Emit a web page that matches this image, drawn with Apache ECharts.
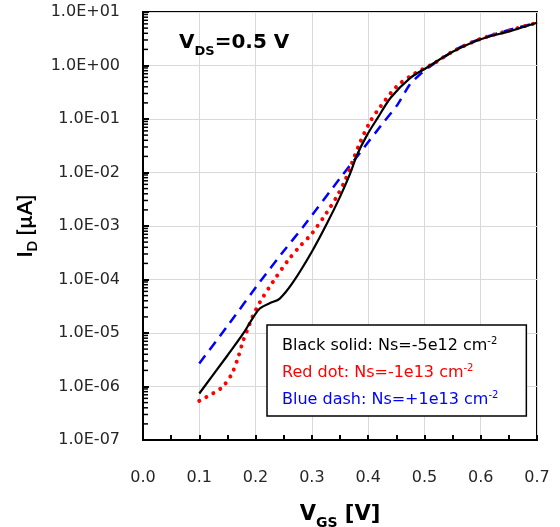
<!DOCTYPE html>
<html>
<head>
<meta charset="utf-8">
<script src="https://cdn.jsdelivr.net/npm/echarts@6/dist/echarts.min.js"></script>
<style>
html,body{margin:0;padding:0;background:#fff;}
#chart{width:560px;height:527px;}
</style>
</head>
<body>
<div id="chart"></div>
<script>
// ---- data ----
const xTickLabels = ['0.0','0.1','0.2','0.3','0.4','0.5','0.6','0.7'];
const yTickLabels = ['1.0E-07','1.0E-06','1.0E-05','1.0E-04','1.0E-03','1.0E-02','1.0E-01','1.0E+00','1.0E+01'];
const yDecades = [1e-7, 1e-6, 1e-5, 1e-4, 1e-3, 1e-2, 1e-1, 1];
const yMinorMultipliers = [2, 3, 4, 5, 6, 7, 8, 9];

const blackV = [0.10,0.15,0.18,0.195,0.208,0.225,0.243,0.266,0.30,0.327,0.35,0.368,0.38,0.398,0.417,0.44,0.474,0.504,0.551,0.60,0.652,0.70];
const blackI = [7.4e-7,3.8e-6,1.05e-5,1.9e-5,2.9e-5,3.6e-5,4.4e-5,8.7e-5,3.3e-4,1.12e-3,3.5e-3,9.5e-3,2.1e-2,5.0e-2,0.105,0.25,0.575,0.91,1.82,3.1,4.4,6.3];

const redV = [0.10,0.124,0.142,0.158,0.169,0.178,0.187,0.194,0.208,0.231,0.258,0.279,0.30,0.327,0.344,0.359,0.371,0.385,0.403,0.421,0.451,0.48,0.52,0.55,0.60,0.65,0.70];
const redI = [5.4e-7,7.4e-7,1.0e-6,1.74e-6,3.5e-6,7.2e-6,1.26e-5,1.95e-5,3.8e-5,9.1e-5,2.3e-4,4.2e-4,7.2e-4,1.82e-3,3.5e-3,7.1e-3,1.48e-2,3.5e-2,8.7e-2,0.166,0.41,0.68,1.15,1.82,3.16,4.5,6.3];

const blueV = [0.10,0.15,0.208,0.25,0.284,0.35,0.385,0.426,0.451,0.474,0.492,0.515,0.563,0.60,0.65,0.70];
const blueI = [2.7e-6,1.35e-5,9.1e-5,3.4e-4,9.5e-4,7.8e-3,2.3e-2,8.3e-2,0.178,0.44,0.68,1.05,2.19,3.16,4.6,6.3];

const seriesNames = ['Black solid', 'Red dot', 'Blue dash'];
const legendTexts = ['Black solid: Ns=-5e12 cm', 'Red dot: Ns=-1e13 cm', 'Blue dash: Ns=+1e13 cm'];
const legendSup = '-2';

const zip = (a, b) => a.map((v, i) => [v, b[i]]);
const minorTickData = [];
yDecades.forEach(d => yMinorMultipliers.forEach(m => minorTickData.push([0, d * m])));

const WIDE = 'DejaVu Sans';
const chart = echarts.init(document.getElementById('chart'), null, {renderer: 'canvas'});

const boldRich = (family, size, subSize) => ({
  b: {fontFamily: family, fontWeight: 'bold', fontSize: size, color: '#000', lineHeight: 30, verticalAlign: 'middle'},
  s: {fontFamily: family, fontWeight: 'bold', fontSize: subSize, color: '#000', lineHeight: 14, verticalAlign: 'bottom'}
});

chart.setOption({
  backgroundColor: '#fff',
  animation: false,
  title: {
    text: '{b|V}{s|DS}{b|=0.5 V}',
    left: 179, top: 28,
    padding: 0,
    textStyle: {rich: boldRich(WIDE, 20, 13)}
  },
  legend: {
    orient: 'vertical',
    left: 267, top: 325,
    padding: [11, 28, 7, 10],
    itemGap: 8,
    itemWidth: 0, itemHeight: 19,
    icon: 'none',
    borderColor: '#000', borderWidth: 1.5,
    backgroundColor: '#fff',
    selectedMode: false,
    data: [
      {name: seriesNames[0], textStyle: {color: '#000'}},
      {name: seriesNames[1], textStyle: {color: '#ff0000'}},
      {name: seriesNames[2], textStyle: {color: '#0000ff'}}
    ],
    formatter: name => {
      const i = seriesNames.indexOf(name);
      return '{t|' + legendTexts[i] + '}{s|' + legendSup + '}';
    },
    textStyle: {
      fontFamily: WIDE, fontSize: 16, lineHeight: 19,
      rich: {
        t: {fontFamily: WIDE, fontSize: 16},
        s: {fontFamily: WIDE, fontSize: 10, padding: [0,0,8,0]}
      }
    }
  },
  grid: {
    left: 143, top: 12, width: 394, height: 428,
    containLabel: false,
    outerBoundsMode: 'none',
    show: true, borderColor: '#000', borderWidth: 2, backgroundColor: 'transparent'
  },
  xAxis: {
    type: 'value', min: 0, max: 0.7, interval: 0.1,
    name: '{b|V}{s|GS}{b| [V]}',
    nameLocation: 'middle', nameGap: 60,
    nameTextStyle: {rich: boldRich(WIDE, 21, 14)},
    axisLine: {show: true, lineStyle: {color: '#000', width: 2}},
    axisTick: {show: true, inside: true, length: 5, lineStyle: {color: '#000', width: 2}},
    minorTick: {show: true, splitNumber: 2, length: 5, lineStyle: {color: '#000', width: 2}},
    splitLine: {show: true, lineStyle: {color: '#d9d9d9', width: 1}},
    axisLabel: {
      margin: 30, fontFamily: WIDE, fontSize: 16, color: '#262626',
      formatter: v => xTickLabels[Math.round(v * 10)]
    }
  },
  yAxis: {
    type: 'log', logBase: 10, min: 1e-7, max: 10,
    name: '{b|I}{s|D}{b| [µA]}',
    nameLocation: 'middle', nameGap: 98, nameRotate: 90,
    nameTextStyle: {rich: boldRich('Lato', 21, 14)},
    axisLine: {show: true, lineStyle: {color: '#000', width: 2}},
    axisTick: {show: true, inside: true, length: 6, lineStyle: {color: '#000', width: 2}},
    splitLine: {show: true, lineStyle: {color: '#d9d9d9', width: 1}},
    axisLabel: {
      margin: 23, fontFamily: WIDE, fontSize: 16, color: '#262626',
      formatter: v => yTickLabels[Math.round(Math.log10(v)) + 7]
    }
  },
  series: [
    {
      name: 'yMinorTicks', type: 'custom', data: minorTickData, silent: true, z: 5,
      renderItem: (params, api) => {
        const p = api.coord([api.value(0), api.value(1)]);
        return {
          type: 'line',
          shape: {x1: p[0], y1: p[1], x2: p[0] + 5, y2: p[1]},
          style: {stroke: '#000', lineWidth: 1.5}
        };
      }
    },
    {
      name: seriesNames[0], type: 'line', data: zip(blackV, blackI),
      showSymbol: false, smooth: 0.3, z: 4,
      lineStyle: {color: '#000', width: 2.2},
      itemStyle: {color: '#000'}
    },
    {
      name: seriesNames[1], type: 'line', data: zip(redV, redI),
      showSymbol: false, smooth: 0.3, z: 3,
      lineStyle: {color: '#ff0000', width: 4, type: [0.01, 8], cap: 'round'},
      itemStyle: {color: '#ff0000'}
    },
    {
      name: seriesNames[2], type: 'line', data: zip(blueV, blueI),
      showSymbol: false, smooth: 0.2, z: 2,
      lineStyle: {color: '#0000ff', width: 2.5, type: [10, 7]},
      itemStyle: {color: '#0000ff'}
    }
  ]
});
</script>
</body>
</html>
